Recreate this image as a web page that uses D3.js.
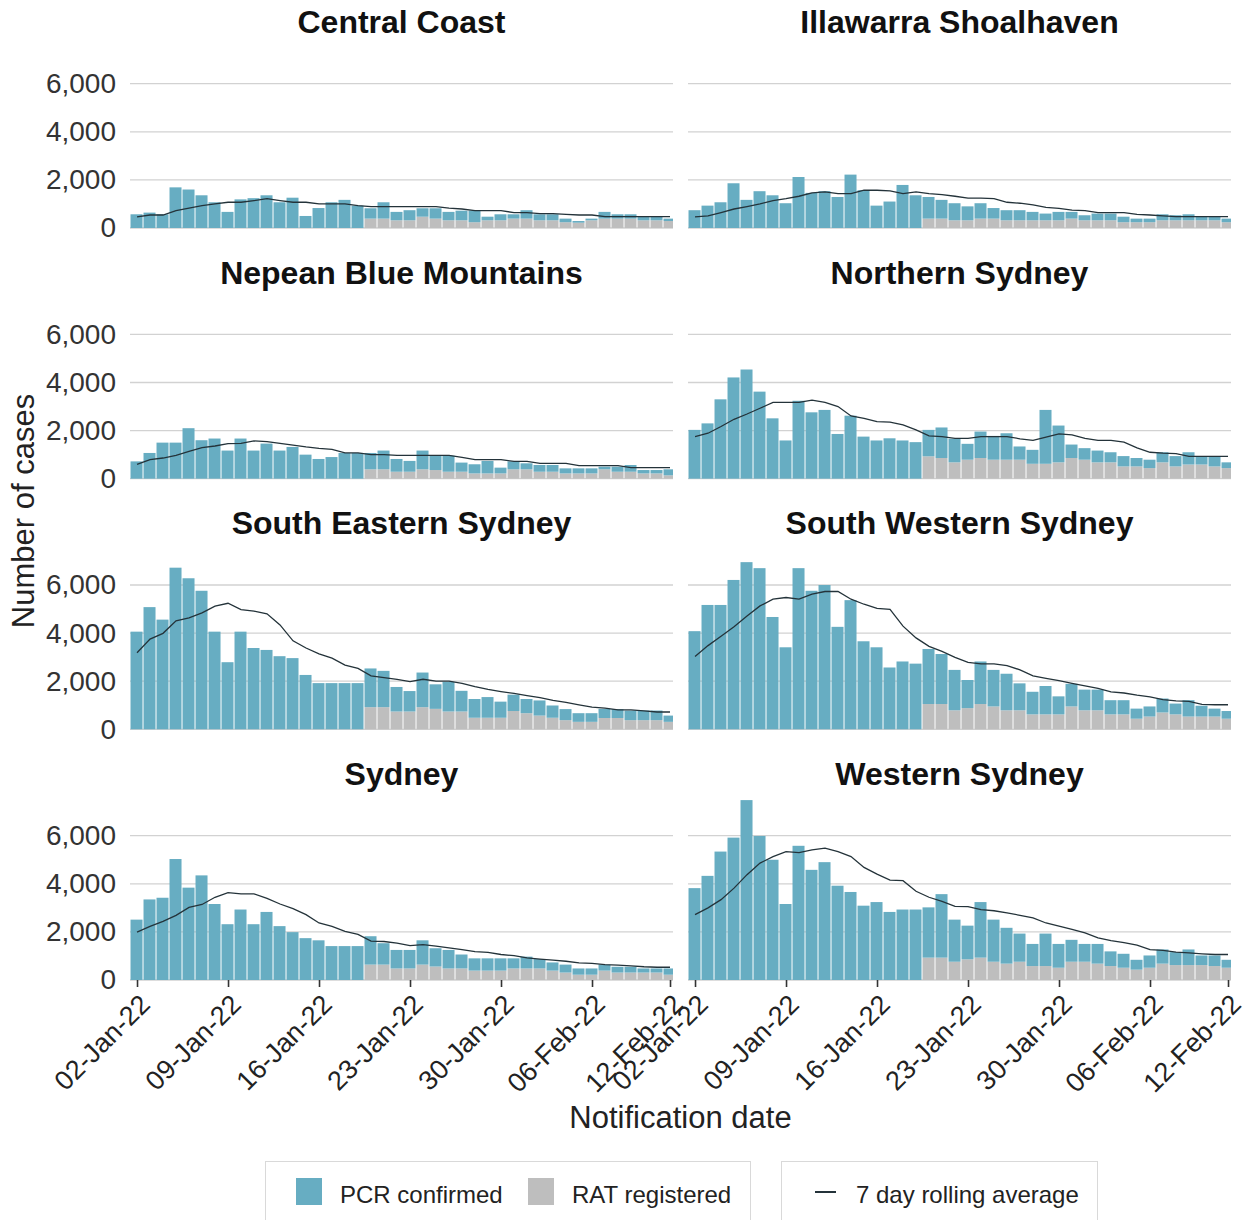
<!DOCTYPE html>
<html>
<head>
<meta charset="utf-8">
<script src="https://cdn.jsdelivr.net/npm/d3@7"></script>
<style>
body { margin: 0; background: #fff; }
text { font-family: "Liberation Sans", Arial, sans-serif; }
</style>
</head>
<body>
<div id="chart"></div>
<script>
// categories
var firstDay = "2022-01-02";
var lastDay = "2022-02-12";
var tickDates = ["2022-01-02", "2022-01-09", "2022-01-16", "2022-01-23", "2022-01-30", "2022-02-06", "2022-02-12"];
var regions = ["Central Coast", "Illawarra Shoalhaven", "Nepean Blue Mountains", "Northern Sydney",
               "South Eastern Sydney", "South Western Sydney", "Sydney", "Western Sydney"];
var yTicks = [0, 2000, 4000, 6000];
var noRat = [0,0,0,0,0,0,0,0,0,0,0,0,0,0,0,0,0,0]; // RAT not registered before 20-Jan

// Central Coast
var ccPcr = [570,640,570,1690,1600,1360,1070,670,1190,1240,1360,1070,1260,500,830,1070,1170,930,
             430,680,350,420,350,430,350,400,480,150,250,180,350,250,250,150,70,70,280,180,180,150,150,100];
var ccRat = noRat.concat([390,390,320,320,470,390,320,320,240,320,320,390,390,320,320,240,220,320,390,390,390,320,320,290]);
var ccAvg = [460,540,540,720,830,930,1000,1070,1070,1140,1220,1140,1070,1070,1000,1000,1000,930,890,890,890,
             890,890,890,830,790,720,720,720,640,640,600,600,570,540,540,470,470,470,470,470,470];

// Illawarra Shoalhaven
var isPcr = [740,930,1070,1860,1170,1530,1360,1030,2120,1460,1530,1290,2220,1570,930,1100,1790,1360,
             900,780,710,580,640,440,420,420,350,280,350,280,210,280,280,230,150,150,250,210,250,140,140,150];
var isRat = noRat.concat([390,390,320,320,390,390,320,320,320,320,320,390,320,320,320,240,240,240,320,320,320,320,320,240]);
var isAvg = [460,500,640,790,890,1000,1140,1220,1320,1460,1500,1430,1430,1570,1570,1540,1430,1500,1430,1390,1320,
             1240,1240,1220,1070,1030,960,860,820,740,720,640,640,640,570,540,500,470,470,470,470,470];

// Nepean Blue Mountains
var nbmPcr = [720,1070,1500,1500,2100,1600,1670,1170,1670,1170,1460,1170,1320,1000,820,900,1070,1070,
              680,780,530,450,780,600,670,380,380,520,240,330,250,280,280,210,210,210,110,210,280,140,140,250];
var nbmRat = noRat.concat([390,390,290,290,390,360,290,290,220,220,220,390,390,290,290,220,220,220,390,290,290,220,220,140]);
var nbmAvg = [600,790,860,970,1140,1290,1360,1460,1470,1570,1540,1470,1400,1320,1260,1220,1070,1070,1000,1000,970,
              970,970,970,970,890,790,790,790,720,720,640,640,640,540,540,540,540,460,460,460,460];

// Northern Sydney
var nsPcr = [2030,2300,3300,4210,4540,3620,2510,1590,3240,2760,2860,1860,2620,1750,1590,1680,1590,1520,
             1100,1270,980,660,1100,990,1100,550,580,2240,1530,560,480,490,420,430,350,350,420,430,510,340,420,240];
var nsRat = noRat.concat([930,860,680,790,860,790,790,790,620,620,680,860,790,680,680,510,510,440,680,510,590,590,510,440]);
var nsAvg = [1750,1890,2170,2470,2690,2930,3170,3170,3170,3270,3170,3000,2610,2510,2370,2350,2240,2030,1780,1750,1680,
             1680,1750,1750,1750,1660,1590,1730,1860,1820,1680,1590,1590,1520,1280,1100,1060,1040,930,930,930,930];

// South Eastern Sydney
var sesPcr = [4060,5080,4560,6720,6280,5760,4060,2790,4060,3380,3300,3040,2960,2260,1920,1920,1920,1920,
              1610,1510,1020,850,1440,1020,1230,860,780,860,670,680,590,630,510,460,360,360,380,370,400,400,400,260];
var sesRat = noRat.concat([920,920,740,740,920,850,740,740,480,480,480,760,670,570,480,380,310,310,470,470,380,380,380,310]);
var sesAvg = [3180,3750,3990,4510,4630,4840,5120,5240,4980,4910,4800,4340,3680,3380,3140,2960,2670,2530,2220,2150,2080,
              1980,2080,2000,2000,1910,1770,1660,1570,1490,1400,1320,1200,1120,1020,920,880,810,810,770,720,720];

// South Western Sydney
var swsPcr = [4080,5170,5170,6210,6950,6700,4670,3410,6700,5760,6000,4260,5370,3660,3410,2570,2820,2730,
              2290,2080,1680,1170,1770,1520,1520,1120,940,1180,750,940,860,860,590,590,420,420,580,450,680,450,330,320];
var swsRat = noRat.concat([1050,1050,790,880,1050,950,790,790,620,620,620,950,790,790,620,620,440,530,700,620,530,530,530,440]);
var swsAvg = [3030,3480,3870,4260,4710,5130,5410,5480,5410,5620,5730,5730,5410,5200,5030,4990,4290,3800,3450,3240,2990,
              2780,2720,2720,2650,2470,2220,2120,2020,1910,1810,1700,1560,1510,1420,1350,1230,1180,1160,1040,1020,1020];

// Sydney
var sydPcr = [2510,3350,3420,5030,3840,4350,3160,2320,2930,2320,2830,2240,1990,1740,1650,1410,1410,1410,
              1180,890,770,770,1010,760,770,580,510,510,510,420,490,390,340,330,260,260,250,240,240,170,170,260];
var sydRat = noRat.concat([640,640,480,480,640,560,480,480,390,390,390,480,480,480,390,310,220,220,390,310,310,310,310,220]);
var sydAvg = [1990,2230,2440,2690,3020,3140,3440,3630,3580,3580,3390,3160,2970,2720,2370,2230,2020,1900,1620,1600,1530,
              1430,1470,1410,1340,1260,1180,1150,1060,1010,920,870,830,780,710,690,640,620,590,550,530,530];

// Western Sydney
var wsPcr = [3820,4330,5340,5920,7480,5990,5000,3160,5580,4580,4900,3920,3660,3090,3240,2830,2930,2930,
             2090,2640,1750,1400,2310,1750,1490,1170,920,1350,990,910,740,820,610,580,410,510,590,540,650,400,440,330];
var wsRat = noRat.concat([930,930,760,860,930,760,680,760,580,580,510,760,760,680,580,510,430,510,680,620,620,620,580,510]);
var wsAvg = [2720,3000,3340,3820,4380,4860,5130,5340,5300,5410,5480,5340,5130,4680,4400,4150,4130,3690,3440,3270,3060,
             3050,2930,2880,2790,2690,2580,2370,2240,2100,1960,1750,1640,1550,1450,1260,1230,1160,1130,1090,1060,1060];

var pcrSeries = [ccPcr, isPcr, nbmPcr, nsPcr, sesPcr, swsPcr, sydPcr, wsPcr];
var ratSeries = [ccRat, isRat, nbmRat, nsRat, sesRat, swsRat, sydRat, wsRat];
var avgSeries = [ccAvg, isAvg, nbmAvg, nsAvg, sesAvg, swsAvg, sydAvg, wsAvg];

var w = 1247;
var h = 1220;
var colLeft = [130, 688];
var colRight = [673, 1231];
var rowBase = [228, 478.7, 729.3, 980];
var panelH = 190;
var pcrColor = "#67adc2";
var ratColor = "#bebebe";
var lineColor = "#24333a";

var parse = d3.utcParse("%Y-%m-%d");
var fmt = d3.utcFormat("%d-%b-%y");
var days = d3.utcDay.range(parse(firstDay), d3.utcDay.offset(parse(lastDay), 1));
var dayMs = 864e5;

function init()
{
    var svg = d3.select("#chart").append("svg").attr("width", w).attr("height", h);

    regions.forEach(function(name, i) {
        var col = i % 2;
        var row = Math.floor(i / 2);
        var base = rowBase[row];

        var xScale = d3.scaleUtc()
            .domain([new Date(parse(firstDay).getTime() - 0.54 * dayMs), new Date(parse(lastDay).getTime() + 0.23 * dayMs)])
            .range([colLeft[col], colRight[col]]);
        var yScale = d3.scaleLinear().domain([0, 7900]).range([base, base - panelH]);
        var step = xScale(days[1]) - xScale(days[0]);

        var rows = days.map(function(d, k) {
            return {date: d, pcr: pcrSeries[i][k], rat: ratSeries[i][k], avg: avgSeries[i][k]};
        });

        var clipId = "clip" + i;
        svg.append("clipPath").attr("id", clipId)
            .append("rect")
            .attr("x", colLeft[col])
            .attr("y", base - panelH)
            .attr("width", colRight[col] - colLeft[col])
            .attr("height", panelH + 1);

        var g = svg.append("g");

        // gridlines
        g.selectAll("line.grid")
            .data(yTicks)
            .enter()
            .append("line")
            .attr("class", "grid")
            .attr("x1", colLeft[col])
            .attr("x2", colRight[col])
            .attr("y1", (d) => yScale(d))
            .attr("y2", (d) => yScale(d))
            .attr("stroke", "#d2d2d2")
            .attr("stroke-width", 1.3);

        var plot = g.append("g").attr("clip-path", "url(#" + clipId + ")");

        // RAT bars (bottom of stack)
        plot.selectAll("rect.rat")
            .data(rows)
            .enter()
            .append("rect")
            .attr("class", "rat")
            .attr("x", (d) => xScale(d.date) - step / 2)
            .attr("width", step - 1)
            .attr("y", (d) => yScale(d.rat))
            .attr("height", (d) => base - yScale(d.rat))
            .attr("fill", ratColor);

        // PCR bars on top
        plot.selectAll("rect.pcr")
            .data(rows)
            .enter()
            .append("rect")
            .attr("class", "pcr")
            .attr("x", (d) => xScale(d.date) - step / 2)
            .attr("width", step - 1)
            .attr("y", (d) => yScale(d.rat + d.pcr))
            .attr("height", (d) => yScale(d.rat) - yScale(d.rat + d.pcr))
            .attr("fill", pcrColor);

        // 7 day rolling average
        var line = d3.line()
            .x((d) => xScale(d.date))
            .y((d) => yScale(d.avg));
        plot.append("path")
            .datum(rows)
            .attr("d", line)
            .attr("fill", "none")
            .attr("stroke", lineColor)
            .attr("stroke-width", 1.3);

        // strip title
        svg.append("text")
            .attr("x", (colLeft[col] + colRight[col]) / 2)
            .attr("y", 33 + row * 250.67)
            .attr("text-anchor", "middle")
            .style("font-size", "32px")
            .style("font-weight", "bold")
            .attr("fill", "#111")
            .text(name);

        // y axis on left column only
        if (col == 0) {
            var yAxis = d3.axisLeft(yScale)
                .tickValues(yTicks)
                .tickSize(0)
                .tickPadding(14)
                .tickFormat(d3.format(","));
            var ya = svg.append("g")
                .attr("transform", "translate(" + colLeft[col] + ",0)")
                .call(yAxis);
            ya.select(".domain").remove();
            ya.selectAll("text")
                .style("font-size", "28px")
                .style("font-family", "'Liberation Sans', Arial, sans-serif")
                .attr("fill", "#333");
        }

        // x axis on bottom row only
        if (row == 3) {
            var xAxis = d3.axisBottom(xScale)
                .tickValues(tickDates.map(parse))
                .tickSize(7)
                .tickFormat(fmt);
            var xa = svg.append("g")
                .attr("transform", "translate(0," + base + ")")
                .call(xAxis);
            xa.select(".domain").remove();
            xa.selectAll(".tick line").attr("stroke", "#333").attr("stroke-width", 1.6);
            xa.selectAll("text")
                .attr("x", 0)
                .attr("y", 0)
                .attr("dy", 0)
                .attr("transform", "translate(14,26) rotate(-45)")
                .style("text-anchor", "end")
                .style("font-size", "27px")
                .style("font-family", "'Liberation Sans', Arial, sans-serif")
                .attr("fill", "#222");
        }
    });

    // axis titles
    svg.append("text")
        .attr("transform", "translate(34,511) rotate(-90)")
        .attr("text-anchor", "middle")
        .style("font-size", "31px")
        .attr("fill", "#222")
        .text("Number of cases");

    svg.append("text")
        .attr("x", (colLeft[0] + colRight[1]) / 2)
        .attr("y", 1128)
        .attr("text-anchor", "middle")
        .style("font-size", "31px")
        .attr("fill", "#222")
        .text("Notification date");

    // legend
    var legend = svg.append("g");
    legend.append("rect")
        .attr("x", 265.5).attr("y", 1161.5).attr("width", 485).attr("height", 80)
        .attr("fill", "none").attr("stroke", "#d9d9d9");
    legend.append("rect")
        .attr("x", 781.5).attr("y", 1161.5).attr("width", 316).attr("height", 80)
        .attr("fill", "none").attr("stroke", "#d9d9d9");

    var keys = [{label: "PCR confirmed", color: pcrColor, x: 296},
                {label: "RAT registered", color: ratColor, x: 528}];
    keys.forEach(function(k) {
        legend.append("rect")
            .attr("x", k.x).attr("y", 1178).attr("width", 26).attr("height", 27)
            .attr("fill", k.color);
        legend.append("text")
            .attr("x", k.x + 44).attr("y", 1203)
            .style("font-size", "24px")
            .attr("fill", "#222")
            .text(k.label);
    });
    legend.append("line")
        .attr("x1", 815).attr("x2", 836).attr("y1", 1192).attr("y2", 1192)
        .attr("stroke", lineColor).attr("stroke-width", 2);
    legend.append("text")
        .attr("x", 856).attr("y", 1203)
        .style("font-size", "24px")
        .attr("fill", "#222")
        .text("7 day rolling average");
}

window.onload = init;
</script>
</body>
</html>
